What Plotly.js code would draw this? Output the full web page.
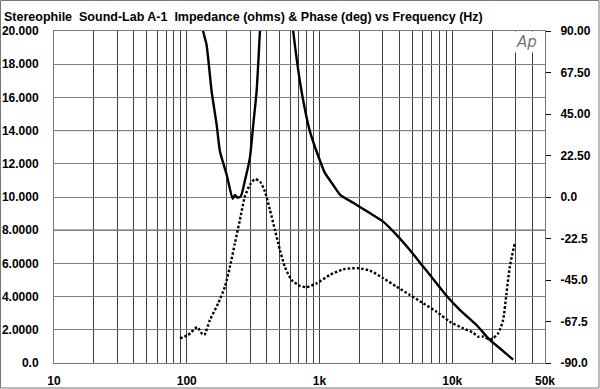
<!DOCTYPE html>
<html>
<head>
<meta charset="utf-8">
<script src="https://cdn.plot.ly/plotly-3.0.1.min.js"></script>
<style>
html,body{margin:0;padding:0;background:#fff;}
#chart{width:600px;height:389px;}
</style>
</head>
<body>
<div id="chart"></div>
<script>
// Impedance (ohms) vs frequency (Hz)
const impFreq = [125,133,141,154,168,178,200,222,231,240,255,274,299,317,336,356,369,450,550,598,634,672,733,847,951,1099,1250,1426,1795,2396,3018,3807,4795,6039,7616,9061,11407,15236,19190,22810,28760];
const impOhms = [21.5,19.98,19.17,16.36,14.35,12.74,11.34,9.89,10.13,9.97,10.03,10.97,12.36,14.35,16.36,19.98,22.2,40,40,21.6,19.98,18.37,16.36,13.95,12.74,11.45,10.8,10.15,9.65,9.03,8.52,7.72,6.81,5.81,4.81,4.05,3.2,2.29,1.39,0.89,0.2];

// Phase (deg) vs frequency (Hz)
const phFreq = [88.9,102.5,120,129.5,135.5,149.5,172.7,194,211.5,230.5,251.5,274,299,326,356,388,423.5,461.5,503.5,548.5,616.5,711.5,799,951,1197,1508,1954,2396,3018,3807,4795,6039,7616,9594,12080,14360,15660,17090,19190,20320,22170,24170,25630,27150,29590];
const phDeg = [-76.6,-74.8,-70.6,-73.9,-74.8,-66.7,-57.6,-48.6,-37.8,-25.1,-12.4,0.2,6.6,9.7,8.4,3.0,-7.0,-17.8,-28.7,-37.8,-45.0,-48.2,-48.9,-46.8,-42.3,-39.2,-38.6,-39.9,-44.0,-48.6,-53.1,-57.6,-62.2,-67.6,-71.2,-73.6,-75.7,-75.7,-77.2,-76.6,-73.9,-66.7,-52.2,-37.8,-25.1];

// Axis ticks
const xTickVals = [10,20,30,40,50,60,70,80,90,100,200,300,400,500,600,700,800,900,1000,2000,3000,4000,5000,6000,7000,8000,9000,10000,20000,30000,40000,50000];
const xTickText = ['10','','','','','','','','','100','','','','','','','','','1k','','','','','','','','','10k','','','','50k'];
const yTickVals = [0,2,4,6,8,10,12,14,16,18,20];
const yTickText = ['0.0','2.0000','4.0000','6.0000','8.0000','10.000','12.000','14.000','16.000','18.000','20.000'];
const y2TickVals = [-90,-67.5,-45,-22.5,0,22.5,45,67.5,90];
const y2TickText = ['-90.0','-67.5','-45.0','-22.5','0.0','22.50','45.00','67.50','90.00'];

const FONT = 'Liberation Sans, Arial, sans-serif';

const traces = [
  {x: impFreq, y: impOhms, type: 'scatter', mode: 'lines', yaxis: 'y',
   line: {color: '#000', width: 2.4, shape: 'spline', smoothing: 0.6}, hoverinfo: 'skip'},
  {x: phFreq, y: phDeg, type: 'scatter', mode: 'lines', yaxis: 'y2',
   line: {color: '#000', width: 2.4, dash: '2.5px,2px', shape: 'spline', smoothing: 0.6}, hoverinfo: 'skip'}
];

const pxX = p => (p - 54) / 491;
const pxY = p => (363 - p) / 332;

const layout = {
  width: 600, height: 389,
  margin: {l: 54, r: 55, t: 31, b: 26, pad: 0},
  paper_bgcolor: '#fff', plot_bgcolor: '#fff',
  showlegend: false,
  font: {family: FONT, size: 12, color: '#000'},
  title: {
    text: 'Stereophile\u00a0 Sound-Lab A-1\u00a0 Impedance (ohms) &amp; Phase (deg) vs Frequency (Hz)',
    font: {family: FONT, size: 12.5, color: '#000', weight: 'bold'},
    x: 4/600, xanchor: 'left', xref: 'container',
    y: 1 - 17/389, yanchor: 'middle', yref: 'container'
  },
  xaxis: {
    type: 'log', range: [1, Math.log10(50000)],
    tickmode: 'array', tickvals: xTickVals, ticktext: xTickText,
    showgrid: true, gridcolor: '#404040', gridwidth: 1,
    ticks: '', showline: true, linecolor: '#777', linewidth: 1, mirror: true,
    tickfont: {family: FONT, size: 12, color: '#000', weight: 'bold'},
    ticklabelstandoff: 7, zeroline: false, fixedrange: true
  },
  yaxis: {
    range: [0, 20], tickmode: 'array', tickvals: yTickVals, ticktext: yTickText,
    showgrid: true, gridcolor: '#808080', gridwidth: 1,
    ticks: '', showline: true, linecolor: '#777', linewidth: 1, mirror: true,
    tickfont: {family: FONT, size: 12, color: '#000', weight: 'bold'},
    ticklabelstandoff: 12, zeroline: false, fixedrange: true
  },
  yaxis2: {
    range: [-90, 90], overlaying: 'y', side: 'right',
    tickmode: 'array', tickvals: y2TickVals, ticktext: y2TickText,
    showgrid: false, zeroline: false,
    ticks: 'outside', ticklen: 5, tickcolor: '#000', tickwidth: 1,
    tickfont: {family: FONT, size: 12, color: '#000', weight: 'bold'},
    ticklabelstandoff: 7, showline: false, fixedrange: true
  },
  shapes: [
    {type: 'line', xref: 'paper', yref: 'y', x0: 0, x1: 1, y0: 14, y1: 14, line: {color: '#111', width: 1}, layer: 'below'},
    {type: 'line', xref: 'paper', yref: 'y', x0: 0, x1: 1, y0: 8, y1: 8, line: {color: '#111', width: 1}, layer: 'below'},
    {type: 'rect', xref: 'paper', yref: 'paper', x0: pxX(0.5), x1: pxX(599), y0: pxY(0.5), y1: pxY(388), line: {color: '#777', width: 1}, fillcolor: 'rgba(0,0,0,0)'}
  ],
  annotations: [
    {text: 'Ap', xref: 'paper', yref: 'paper', x: pxX(526), y: 1, xanchor: 'center', yanchor: 'top',
     showarrow: false, bgcolor: '#fff', width: 27, height: 20, borderpad: 0,
     font: {family: 'DejaVu Sans, sans-serif', size: 15, color: '#777', style: 'italic'}}
  ]
};

Plotly.newPlot('chart', traces, layout, {staticPlot: true, displayModeBar: false});
</script>
</body>
</html>
